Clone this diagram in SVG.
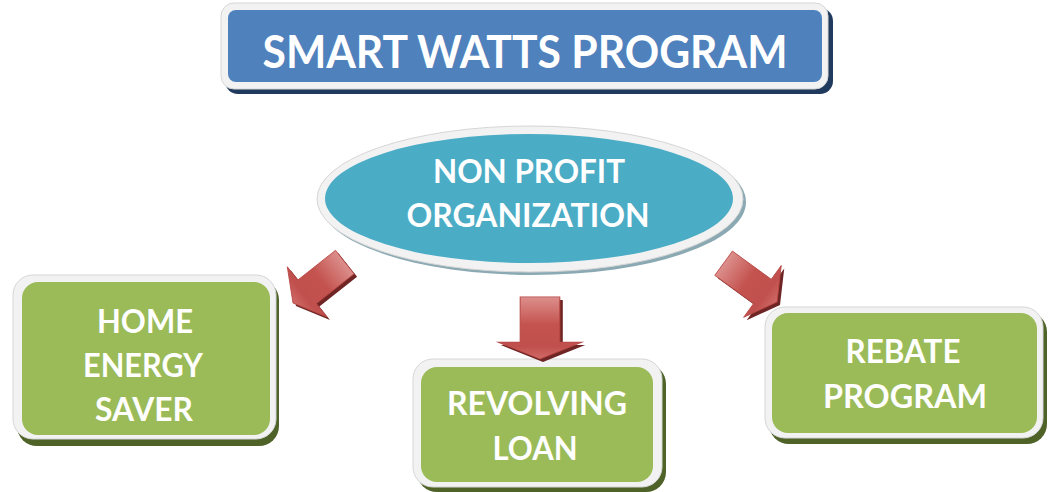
<svg xmlns="http://www.w3.org/2000/svg" width="1048" height="492" viewBox="0 0 1048 492">
<style>
.rim{fill:#f2f2f2;stroke:#d6d6d6;stroke-width:1}
.green{fill:#9bbb59}
.gshadow{fill:#4f6228}
.lbl{font-family:Lato,"Liberation Sans",sans-serif;font-weight:bold;fill:#ffffff;text-anchor:middle}
.t32{font-size:32px}
.ashadow{fill:#6e2524}
.arrow{fill:url(#arrowGrad);stroke:#b84744;stroke-width:0.8}
</style>
<defs>
<linearGradient id="arrowGrad" x1="0" y1="0" x2="0" y2="1">
<stop offset="0" stop-color="#dc8f8c"/>
<stop offset="0.45" stop-color="#c4534f"/>
<stop offset="0.8" stop-color="#c0504d"/>
<stop offset="1" stop-color="#d06a67"/>
</linearGradient>
<path id="arrowShape" d="M0,0 L-32,-18 L-15,-18 L-15,-66 L15,-66 L15,-18 L32,-18 Z"/>
</defs>
<rect width="1048" height="492" fill="#ffffff"/>

<g id="title">
<rect x="225" y="8" width="608" height="86" rx="13" fill="#1f3a5c"/>
<rect x="221" y="3" width="607" height="86" rx="13" class="rim"/>
<rect x="228" y="10" width="594" height="72" rx="8" fill="#4f81bd"/>
<text x="525" y="68" class="lbl" font-size="46" textLength="525" lengthAdjust="spacingAndGlyphs">SMART WATTS PROGRAM</text>
</g>

<g id="nonprofit">
<ellipse cx="533" cy="202" rx="213" ry="73" fill="#8aa9b3"/>
<ellipse cx="530" cy="199" rx="213" ry="73" class="rim"/>
<ellipse cx="529" cy="198.5" rx="204" ry="64.5" fill="#4bacc6"/>
<text x="529" y="183" class="lbl t32" textLength="192" lengthAdjust="spacingAndGlyphs">NON PROFIT</text>
<text x="528" y="227" class="lbl t32" textLength="243" lengthAdjust="spacingAndGlyphs">ORGANIZATION</text>
</g>

<g id="home">
<rect x="17" y="280" width="262" height="166" rx="20" class="gshadow"/>
<rect x="13" y="275" width="263" height="164" rx="20" class="rim"/>
<rect x="22" y="282" width="248" height="153" rx="16" class="green"/>
<text x="145" y="333" class="lbl t32" textLength="96" lengthAdjust="spacingAndGlyphs">HOME</text>
<text x="143" y="377" class="lbl t32" textLength="120" lengthAdjust="spacingAndGlyphs">ENERGY</text>
<text x="144" y="421" class="lbl t32" textLength="98" lengthAdjust="spacingAndGlyphs">SAVER</text>
</g>

<g id="revolving">
<rect x="417" y="364" width="249" height="128" rx="20" class="gshadow"/>
<rect x="413" y="359" width="249" height="128" rx="20" class="rim"/>
<rect x="421" y="367" width="232" height="115" rx="16" class="green"/>
<text x="537" y="415" class="lbl t32" textLength="180" lengthAdjust="spacingAndGlyphs">REVOLVING</text>
<text x="535" y="460" class="lbl t32" textLength="85" lengthAdjust="spacingAndGlyphs">LOAN</text>
</g>

<g id="rebate">
<rect x="769" y="312" width="278" height="132" rx="20" class="gshadow"/>
<rect x="765" y="307" width="278" height="131" rx="20" class="rim"/>
<rect x="772" y="313" width="265" height="120" rx="16" class="green"/>
<text x="903" y="363" class="lbl t32" textLength="115" lengthAdjust="spacingAndGlyphs">REBATE</text>
<text x="905" y="408" class="lbl t32" textLength="164" lengthAdjust="spacingAndGlyphs">PROGRAM</text>
</g>

<g id="connectors">
<g transform="translate(296,306) rotate(51.7)"><use href="#arrowShape" class="ashadow"/></g>
<g transform="translate(293,303) rotate(51.7)"><use href="#arrowShape" class="arrow"/></g>
<g transform="translate(543,362) scale(1.32,0.94)"><use href="#arrowShape" class="ashadow"/></g>
<g transform="translate(540,359) scale(1.32,0.94)"><use href="#arrowShape" class="arrow"/></g>
<g transform="translate(780,305) rotate(-54)"><use href="#arrowShape" class="ashadow"/></g>
<g transform="translate(777,302) rotate(-54)"><use href="#arrowShape" class="arrow"/></g>
</g>
</svg>
